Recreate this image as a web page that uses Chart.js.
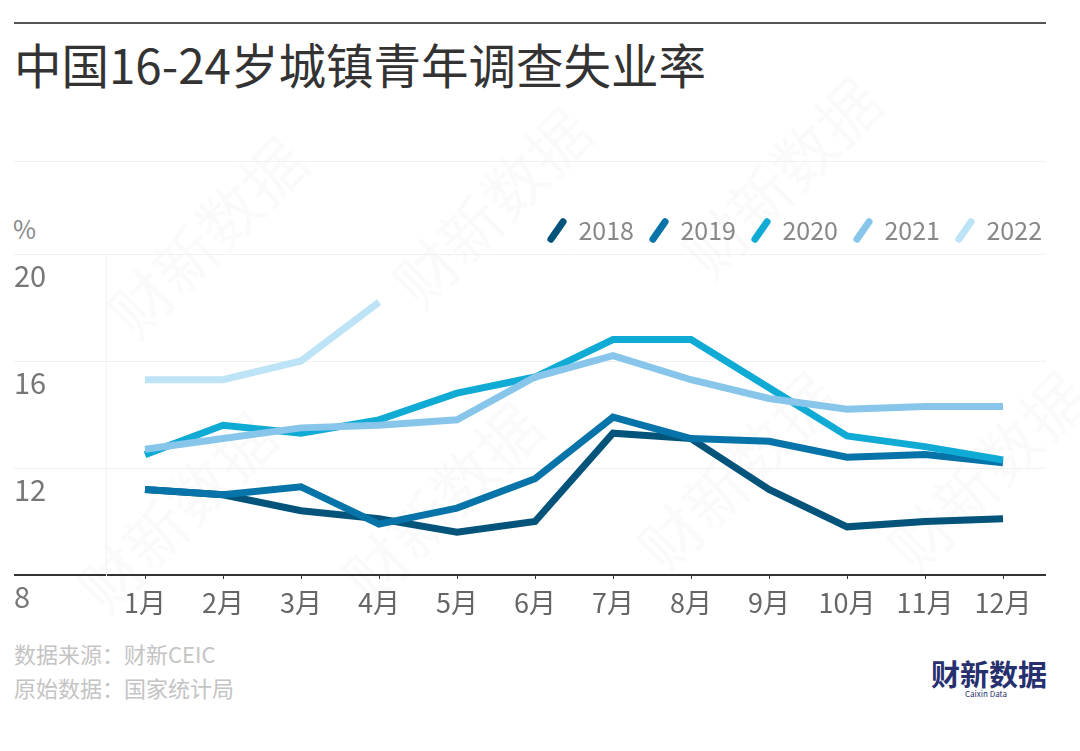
<!DOCTYPE html>
<html>
<head>
<meta charset="utf-8">
<script src="https://cdn.jsdelivr.net/npm/chart.js@4"></script>
<style>
body { margin: 0; background: #fff; font-family: "Noto Sans CJK SC", sans-serif; }
#page { position: relative; width: 1080px; height: 751px; overflow: hidden; }
#chart { position: absolute; left: 0; top: 0; }
.txt { position: absolute; white-space: nowrap; line-height: 1; }
.rule { position: absolute; left: 14px; width: 1032px; }
.wm { position: absolute; white-space: nowrap; font-size: 62px; font-weight: 400; color: #fafafa; transform: translate(-50%, -50%) rotate(-45deg); line-height: 1; }
</style>
</head>
<body>
<div id="page">
  <div class="rule" style="top:22px;height:2px;background:#555"></div>
  <div class="rule" style="top:161px;height:1px;background:#f0f0f0"></div>
  <div class="txt" style="left:14px;top:40px;font-size:47.5px;color:#333">中国16-24岁城镇青年调查失业率</div>
  <div class="txt" style="left:13px;top:216px;font-size:25px;color:#888">%</div>
  <div class="txt" style="left:14px;top:642px;font-size:22px;color:#c4c4c4">数据来源&#xFF1A;财新CEIC</div>
  <div class="txt" style="left:14px;top:676px;font-size:22px;color:#c4c4c4">原始数据&#xFF1A;国家统计局</div>
  <div class="txt" style="left:931px;top:659px;font-size:29px;font-weight:700;color:#27306e">财新数据</div>
  <div class="txt" style="left:965px;top:690px;font-size:8px;color:#27306e">Caixin Data</div>
  <canvas id="chart" width="1080" height="751"></canvas>
</div>
<script>
const months = ['1月','2月','3月','4月','5月','6月','7月','8月','9月','10月','11月','12月'];
const years = ['2018','2019','2020','2021','2022'];
const y2018 = [11.2,11.0,10.4,10.1,9.6,10.0,13.3,13.1,11.2,9.8,10.0,10.1];
const y2019 = [11.2,11.0,11.3,9.9,10.5,11.6,13.9,13.1,13.0,12.4,12.5,12.2];
const y2020 = [12.5,13.6,13.3,13.8,14.8,15.4,16.8,16.8,15.0,13.2,12.8,12.3];
const y2021 = [12.7,13.1,13.5,13.6,13.8,15.4,16.2,15.3,14.6,14.2,14.3,14.3];
const y2022 = [15.3,15.3,16.0,18.2];
const series = [y2018,y2019,y2020,y2021,y2022];
const colors = ['#03537b','#0674a8','#0fabd5','#87c6ea','#bde3f6'];
const yTicks = [8,12,16,20];
const watermarks = [[205,235],[490,205],[780,175],[175,510],[440,500],[735,470],[985,470]];

const fontName = '"Noto Sans CJK SC", sans-serif';
const legendPadding = 16;
const page = document.getElementById('page');
watermarks.forEach(function(p){
    const d = document.createElement('div');
    d.className = 'wm';
    d.textContent = '财新数据';
    d.style.left = p[0] + 'px';
    d.style.top = p[1] + 'px';
    page.insertBefore(d, page.firstChild);
});

// grid lines and the axis run on past the plot to the right
const extendRight = {
    id: 'extendRight',
    beforeLayout(chart){
        if(chart.legend.fitPatched) return;
        const fit = chart.legend.fit;
        chart.legend.fit = function(){ fit.call(this); this.height = 52; };
        chart.legend.fitPatched = true;
    },
    afterLayout(chart){
        // the legend keeps a trailing gap after the last item, push it back out
        chart.legend.right += legendPadding;
    },
    beforeDatasetsDraw(chart){
        const ctx = chart.ctx, y = chart.scales.y;
        yTicks.forEach(function(v){
            ctx.save();
            ctx.strokeStyle = v === 8 ? '#333' : '#f0f0f0';
            ctx.lineWidth = v === 8 ? 2 : 1;
            ctx.beginPath();
            ctx.moveTo(chart.chartArea.right, y.getPixelForValue(v));
            ctx.lineTo(1046, y.getPixelForValue(v));
            ctx.stroke();
            ctx.restore();
        });
    }
};

new Chart(document.getElementById('chart'), {
    type: 'line',
    data: {
        labels: months,
        datasets: series.map(function(vals, i){
            return {
                label: years[i],
                data: vals,
                borderColor: colors[i],
                backgroundColor: colors[i],
                borderWidth: 7,
                borderJoinStyle: 'miter',
                borderCapStyle: 'butt',
                tension: 0,
                pointRadius: 0,
                pointStyle: 'line',
                pointRotation: -55,
                pointBorderWidth: 7,
                pointBorderColor: colors[i],
                order: series.length - i
            };
        })
    },
    options: {
        responsive: false,
        animation: false,
        devicePixelRatio: 1,
        layout: { padding: { left: 14, right: 38, top: 202, bottom: 136 } },
        font: { family: fontName },
        plugins: {
            tooltip: { enabled: false },
            legend: {
                position: 'top',
                align: 'end',
                labels: {
                    usePointStyle: true,
                    boxWidth: 18,
                    boxHeight: 15,
                    padding: legendPadding,
                    color: '#888',
                    font: { family: fontName, size: 25 },
                    sort(a, b){ return a.datasetIndex - b.datasetIndex; },
                    generateLabels(chart){
                        return Chart.defaults.plugins.legend.labels.generateLabels(chart).map(function(item){
                            item.lineCap = 'round';
                            return item;
                        });
                    }
                }
            }
        },
        scales: {
            x: {
                offset: true,
                grid: { offset: false, drawOnChartArea: false, drawTicks: true, tickLength: 4, color: '#333' },
                border: { color: '#333', width: 2 },
                ticks: { color: '#666', font: { family: fontName, size: 27 }, padding: 8, maxRotation: 0, autoSkip: false },
                afterFit(scale){ scale.height = 40; }
            },
            y: {
                min: 8,
                max: 20,
                afterFit(scale){ scale.width = 92; },
                afterBuildTicks(scale){ scale.ticks = yTicks.map(function(v){ return { value: v }; }); },
                grid: {
                    tickLength: 92,
                    color(c){ return c.tick && c.tick.value === 8 ? '#333' : '#f0f0f0'; },
                    lineWidth(c){ return c.tick && c.tick.value === 8 ? 2 : 1; }
                },
                border: { color: '#f3f3f3', width: 1 },
                ticks: {
                    color: '#777',
                    font: { family: fontName, size: 29 },
                    crossAlign: 'far',
                    labelOffset: 22,
                    padding: 0
                }
            }
        }
    },
    plugins: [extendRight]
});
</script>
</body>
</html>
